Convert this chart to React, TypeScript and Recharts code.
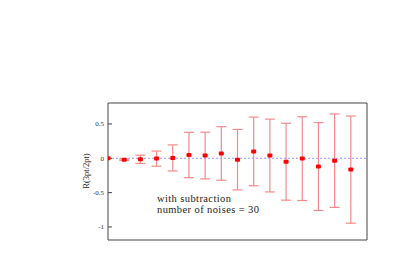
import { ComposedChart, ErrorBar, ReferenceLine, Scatter, XAxis, YAxis } from "recharts";

// time slices of the ratio, one per point
const tIndex = [0, 1, 2, 3, 4, 5, 6, 7, 8, 9, 10, 11, 12, 13, 14, 15];
const ratio = [0, -0.02, -0.015, -0.005, 0.005, 0.048, 0.04, 0.07, -0.02, 0.1, 0.04, -0.05, -0.005, -0.12, -0.035, -0.165];
const ratioErr = [0, 0.01, 0.06, 0.11, 0.19, 0.33, 0.34, 0.39, 0.44, 0.5, 0.53, 0.56, 0.61, 0.64, 0.68, 0.78];

const xTicks = [1, 3, 5, 7, 9, 11, 13, 15];
const yTicks = [-1, -0.5, 0, 0.5];

const rows = tIndex.map((t, i) => ({ t, r: ratio[i], err: ratioErr[i] }));

const FRAME = "#444";
const SERIF = "'Liberation Serif', 'DejaVu Serif', serif";

const Marker = (props: any) => (
  <rect x={props.cx - 2.5} y={props.cy - 2} width={5} height={4} rx={1} fill="#ff0000" />
);

export default function App() {
  return (
    <div style={{ position: "absolute", left: 0, top: 0, width: 414, height: 257, background: "#fff" }}>
      <ComposedChart
        width={414}
        height={257}
        data={rows}
        margin={{ top: 102, right: 46, bottom: 16, left: 0 }}
      >
        <XAxis
          dataKey="t"
          type="number"
          domain={[0, 16]}
          ticks={xTicks}
          tick={false}
          height={1}
          tickSize={-4}
          stroke={FRAME}
          allowDataOverflow
        />
        <XAxis
          xAxisId="top"
          orientation="top"
          dataKey="t"
          type="number"
          domain={[0, 16]}
          ticks={xTicks}
          tick={false}
          height={1}
          tickSize={-4}
          stroke={FRAME}
          allowDataOverflow
        />
        <YAxis
          type="number"
          domain={[-1.19, 0.805]}
          ticks={yTicks}
          width={108}
          tickSize={-4}
          tickMargin={8}
          stroke={FRAME}
          tick={{ fontSize: 7, fill: "#333", fontFamily: SERIF }}
          allowDataOverflow
        />
        <YAxis
          yAxisId="right"
          orientation="right"
          type="number"
          domain={[-1.19, 0.805]}
          ticks={yTicks}
          tick={false}
          width={1}
          tickSize={-4}
          stroke={FRAME}
          allowDataOverflow
        />
        <ReferenceLine y={0} stroke="#9a9aff" strokeDasharray="2 2" strokeWidth={1} />
        <Scatter dataKey="r" shape={Marker} isAnimationActive={false}>
          <ErrorBar dataKey="err" direction="y" width={5} stroke="#f58a8a" strokeWidth={1.2} />
        </Scatter>
      </ComposedChart>

      <div
        style={{
          position: "absolute",
          left: 86,
          top: 171,
          transform: "translate(-50%, -50%) rotate(-90deg)",
          fontFamily: SERIF,
          fontSize: 8.5,
          color: "#222",
          whiteSpace: "nowrap",
        }}
      >
        R(3pt/2pt)
      </div>
      <div
        style={{
          position: "absolute",
          left: 157,
          top: 193,
          fontFamily: SERIF,
          fontSize: 10.5,
          letterSpacing: 0.4,
          lineHeight: "11px",
          color: "#222",
          whiteSpace: "nowrap",
        }}
      >
        <div>with subtraction</div>
        <div>number of noises = 30</div>
      </div>
    </div>
  );
}
